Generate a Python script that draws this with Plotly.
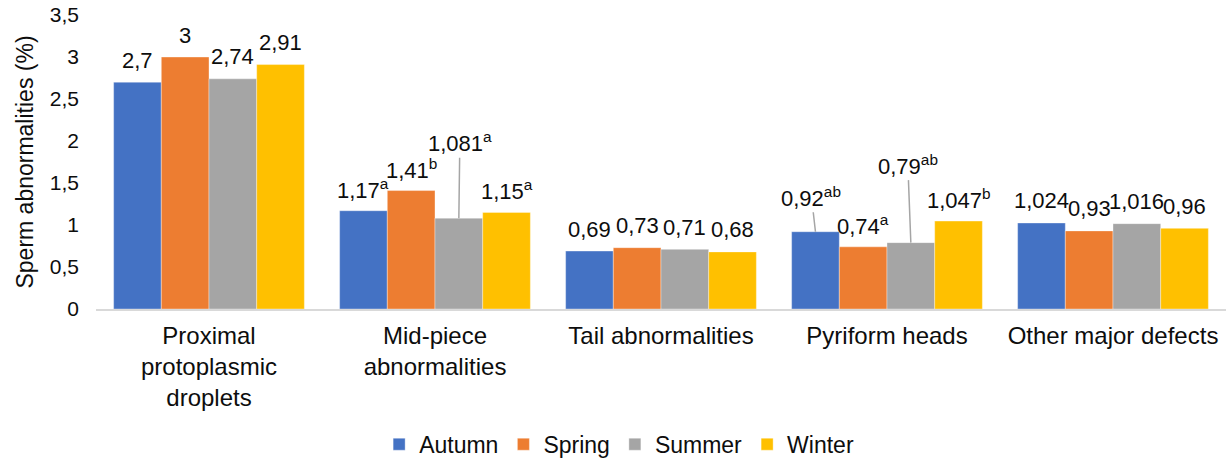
import plotly.graph_objects as go

# Sperm abnormality rates (%) by season for each defect class
categories = ["Proximal<br>protoplasmic<br>droplets", "Mid-piece<br>abnormalities",
              "Tail abnormalities", "Pyriform heads", "Other major defects"]
seasons = ["Autumn", "Spring", "Summer", "Winter"]
autumn = [2.7, 1.17, 0.69, 0.92, 1.024]
spring = [3, 1.41, 0.73, 0.74, 0.93]
summer = [2.74, 1.081, 0.71, 0.79, 1.016]
winter = [2.91, 1.15, 0.68, 1.047, 0.96]
# significance letters shown as superscripts
autumn_sup = ["", "a", "", "ab", ""]
spring_sup = ["", "b", "", "a", ""]
summer_sup = ["", "a", "", "ab", ""]
winter_sup = ["", "a", "", "b", ""]

series = [
    ("Autumn", autumn, autumn_sup, "#4472C4"),
    ("Spring", spring, spring_sup, "#ED7D31"),
    ("Summer", summer, summer_sup, "#A5A5A5"),
    ("Winter", winter, winter_sup, "#FFC000"),
]

# labels pulled away from their bar with a leader line: (series, category) -> pixel offset
leader_offsets = {
    ("Summer", 1): (1, -76),
    ("Autumn", 3): (-4, -35),
    ("Summer", 3): (-3, -78),
}

FONT = "Liberation Sans, Arial, sans-serif"
TXT = "#0d0d0d"
bar_w = 0.211
pos = list(range(len(categories)))

def fmt(v):
    return f"{v:g}".replace(".", ",")

fig = go.Figure()
annotations = []
for k, (name, vals, sups, color) in enumerate(series):
    off = (k - 2) * bar_w
    fig.add_trace(go.Bar(
        name=name, x=pos, y=vals, width=bar_w, offset=off,
        marker=dict(color=color, line=dict(color="rgba(255,255,255,0.6)", width=0.6)),
        hoverinfo="x+y",
    ))
    for i, (v, s) in enumerate(zip(vals, sups)):
        label = fmt(v) + (f"<sup>{s}</sup>" if s else "")
        xc = i + off + bar_w / 2
        if (name, i) in leader_offsets:
            ax, ay = leader_offsets[(name, i)]
            annotations.append(dict(
                x=xc, y=v, xref="x", yref="y", text=label, showarrow=True,
                arrowhead=0, arrowwidth=1.5, arrowcolor="#A5A5A5",
                ax=ax, ay=ay, standoff=0,
                font=dict(family=FONT, size=22, color=TXT),
            ))
        else:
            annotations.append(dict(
                x=xc, y=v, xref="x", yref="y", text=label, showarrow=False,
                yanchor="middle", yshift=22,
                font=dict(family=FONT, size=22, color=TXT),
            ))

fig.update_layout(
    width=1226, height=459,
    margin=dict(l=96, r=0, t=15, b=150, autoexpand=False),
    paper_bgcolor="white", plot_bgcolor="white",
    separators=",.",
    barmode="overlay",
    font=dict(family=FONT, size=22, color=TXT),
    annotations=annotations,
    legend=dict(orientation="h", x=0.505, xref="container", xanchor="center",
                y=-0.46, yanchor="middle", font=dict(size=23, color=TXT),
                itemwidth=30, traceorder="normal"),
    xaxis=dict(range=[-0.5, len(categories) - 0.5], tickmode="array",
               tickvals=pos, ticktext=categories, showgrid=False, zeroline=False,
               showline=True, linecolor="#D9D9D9", linewidth=1.5, ticks="",
               ticklabelstandoff=4,
               tickfont=dict(size=24, color=TXT), fixedrange=True),
    yaxis=dict(range=[0, 3.5], dtick=0.5, showgrid=False, zeroline=False,
               showline=False, ticks="", ticklabelstandoff=16,
               tickfont=dict(size=21, color=TXT),
               title=dict(text="Sperm abnormalities (%)", font=dict(size=23, color=TXT),
                          standoff=9),
               fixedrange=True),
)

fig.write_html("out.html")
